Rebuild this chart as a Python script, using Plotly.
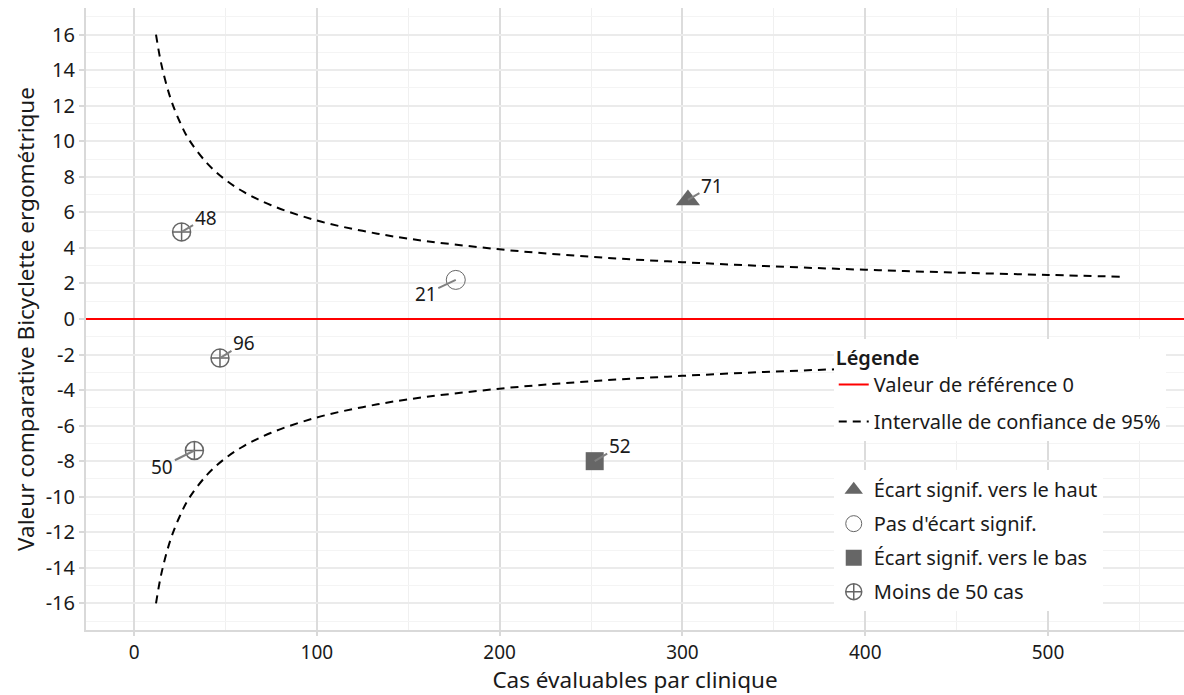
import plotly.graph_objects as go

# ---- data ----
clinic_labels = ["48", "21", "96", "50", "71", "52"]
cases = [26, 176, 47, 33, 303, 252]
values = [4.9, 2.2, -2.2, -7.4, 6.7, -8.0]
groups = ["Moins de 50 cas", "Pas d'écart signif.", "Moins de 50 cas", "Moins de 50 cas",
          "Écart signif. vers le haut", "Écart signif. vers le bas"]

ci_cases = [12, 15, 20, 25, 30, 40, 50, 60, 75, 100, 125, 150, 200, 250, 300, 350, 400, 450, 500, 540]
ci_upper = [16.0, 14.3, 12.4, 11.1, 10.1, 8.76, 7.83, 7.15, 6.40, 5.54, 4.96, 4.52, 3.92, 3.50, 3.20,
            2.96, 2.77, 2.61, 2.48, 2.38]
ci_lower = [-v for v in ci_upper]

x_range = [-26.3, 574.4]
y_range = [-17.5, 17.5]
ref_x = x_range
ref_y = [0, 0]

x_ticks = [0, 100, 200, 300, 400, 500]
x_ticktext = ["0", "100", "200", "300", "400", "500"]
y_ticks = [16, 14, 12, 10, 8, 6, 4, 2, 0, -2, -4, -6, -8, -10, -12, -14, -16]
y_ticktext = ["16", "14", "12", "10", "8", "6", "4", "2", "0", "-2", "-4", "-6", "-8", "-10", "-12", "-14", "-16"]

FONT = "Noto Sans"
GREY = "#666666"
FS = 20
TFS = 22.5

fig = go.Figure()

# reference line
fig.add_trace(go.Scatter(x=ref_x, y=ref_y, mode="lines", line=dict(color="#ff0000", width=2),
                         name="Valeur de référence 0", legend="legend", legendgroup="a"))
# CI
fig.add_trace(go.Scatter(x=ci_cases, y=ci_upper, mode="lines", line=dict(color="black", width=2, dash="8px,6px", shape="spline"),
                         name="Intervalle de confiance de 95%", legend="legend", legendgroup="b"))
fig.add_trace(go.Scatter(x=ci_cases, y=ci_lower, mode="lines", line=dict(color="black", width=2, dash="8px,6px", shape="spline"),
                         name="Intervalle de confiance de 95%", legend="legend", legendgroup="b", showlegend=False))

cats = [
    ("Écart signif. vers le haut", dict(symbol="triangle-up", size=21, color=GREY)),
    ("Pas d'écart signif.", dict(symbol="circle-open", size=19, color=GREY, line=dict(width=1))),
    ("Écart signif. vers le bas", dict(symbol="square", size=18, color=GREY)),
    ("Moins de 50 cas", dict(symbol="circle-cross-open", size=18, color=GREY, line=dict(width=1.5))),
]
for i, (name, mk) in enumerate(cats):
    xs = [c for c, g in zip(cases, groups) if g == name]
    ys = [v for v, g in zip(values, groups) if g == name]
    fig.add_trace(go.Scatter(x=xs, y=ys, mode="markers", marker=mk, name=name,
                             legend="legend2", legendgroup="m%d" % i))

# labels with leader lines
offsets = {"48": (24, -14), "21": (-30, 14), "96": (24, -15), "50": (-32, 16), "71": (24, -14), "52": (25, -15)}
for lab, cx, vy in zip(clinic_labels, cases, values):
    ax, ay = offsets[lab]
    fig.add_annotation(x=cx, y=vy, text=lab, showarrow=True, arrowhead=0, arrowwidth=2,
                       arrowcolor="#808080", ax=ax, ay=ay, font=dict(size=19, color="#1a1a1a", family=FONT))

fig.update_layout(
    width=1184, height=695,
    margin=dict(l=86, r=0, t=8, b=65),
    paper_bgcolor="white", plot_bgcolor="white",
    font=dict(family=FONT, size=FS, color="#1a1a1a"),
    legend=dict(title=dict(text="Légende", font=dict(size=FS, weight=600)), x=0.681, xanchor="left", y=0.468, yanchor="top",
                bgcolor="white", traceorder="grouped", tracegroupgap=8, font=dict(size=FS)),
    legend2=dict(x=0.681, xanchor="left", y=0.257, yanchor="top", bgcolor="white",
                 traceorder="grouped", tracegroupgap=5, font=dict(size=FS)),
)
fig.update_xaxes(range=x_range, tickvals=x_ticks, ticktext=x_ticktext, showgrid=True, gridcolor="#dcdcdc", gridwidth=2,
                 minor=dict(dtick=50, showgrid=True, gridcolor="#f0f0f0", gridwidth=1),
                 showline=True, linecolor="#d9d9d9", linewidth=2, ticks="outside", ticklen=4, tickcolor="#d9d9d9",
                 tickwidth=2, zeroline=False,
                 title=dict(text="Cas évaluables par clinique", standoff=7,
                            font=dict(size=TFS, family=FONT, color="#1a1a1a")),
                 tickfont=dict(size=19))
fig.update_yaxes(range=y_range, tickvals=y_ticks, ticktext=y_ticktext, showgrid=True, gridcolor="#ebebeb", gridwidth=1.5,
                 minor=dict(dtick=1, showgrid=True, gridcolor="#f4f4f4", gridwidth=1),
                 showline=True, linecolor="#d9d9d9", linewidth=2, ticks="outside", ticklen=5, tickcolor="#d9d9d9",
                 tickwidth=2, zeroline=False,
                 title=dict(text="Valeur comparative Bicyclette ergométrique", standoff=5,
                            font=dict(size=TFS, family=FONT, color="#1a1a1a")),
                 tickfont=dict(size=FS))

fig.write_html("out.html")
